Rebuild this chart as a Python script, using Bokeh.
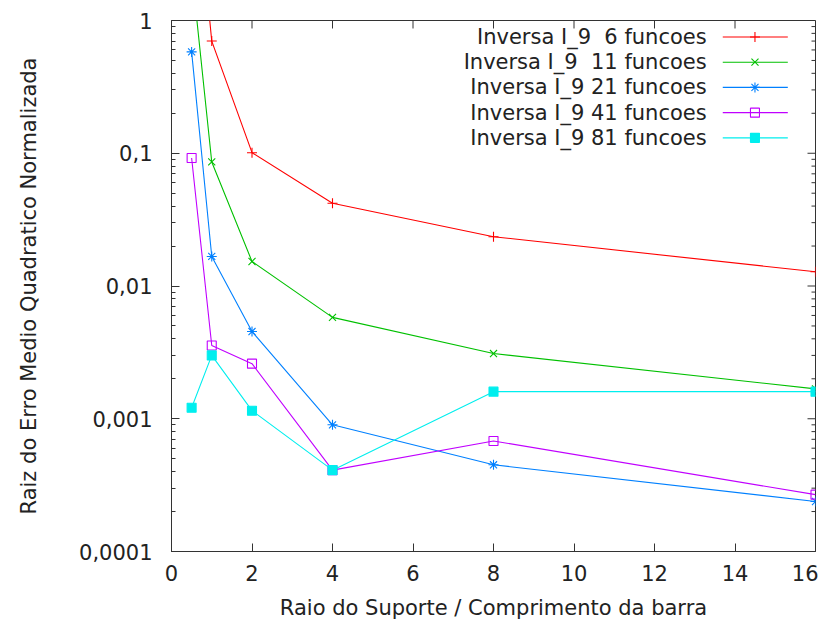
import numpy as np
from bokeh.plotting import figure
from bokeh.models import (FixedTicker, CustomJSTickFormatter, Range1d, ColumnDataSource)
from bokeh.core.properties import value
from bokeh.embed import file_html
from bokeh.resources import INLINE

# ---------------- data ----------------
raio = [0.5, 1, 2, 4, 8, 16]
f6 = [25.0, 0.70, 0.101, 0.042, 0.0235, 0.0128]
f11 = [2.4, 0.086, 0.0153, 0.0058, 0.0031, 0.00168]
f21 = [0.58, 0.0167, 0.00454, 0.00090, 0.00045, 0.000238]
f41 = [0.092, 0.00356, 0.0026, 0.00041, 0.00068, 0.000268]
f81 = [0.00121, 0.0030, 0.00115, 0.00041, 0.0016, 0.0016]

series_labels = ["Inversa I_9\u00a0 6 funcoes", "Inversa I_9\u00a0 11 funcoes",
                 "Inversa I_9 21 funcoes", "Inversa I_9 41 funcoes",
                 "Inversa I_9 81 funcoes"]
x_ticks = [0, 2, 4, 6, 8, 10, 12, 14, 16]
y_ticks = [0.0001, 0.001, 0.01, 0.1, 1]

x_title = "Raio do Suporte / Comprimento da barra"
y_title = "Raiz do Erro Medio Quadratico Normalizada"

# ---------------- style ----------------
colors = ["#ff0000", "#00c000", "#0080ff", "#c000ff", "#00eeee"]
markers = ["cross", "x", "asterisk", "square", "square"]
fills = [None, None, None, None, "#00eeee"]
FONT = "DejaVu Sans"
FS_TICK = "21px"
FS = "21px"
TXT = "#222222"
AX = "#333333"
LW = 1.1

XMIN, XMAX = 0, 16
YMIN, YMAX = 1e-4, 1
W, H = 818, 622
BL, BR, BT, BB = 171, 3, 20, 70

p = figure(width=W, height=H, y_axis_type="log",
           x_range=Range1d(XMIN, XMAX), y_range=Range1d(YMIN, YMAX),
           output_backend="svg", toolbar_location=None,
           min_border_left=BL, min_border_right=BR,
           min_border_top=BT, min_border_bottom=BB)
p.grid.visible = False
p.outline_line_color = AX
p.outline_line_width = 1
p.background_fill_color = "white"
p.border_fill_color = "white"

minor_y = [m * 10.0 ** e for e in range(-4, 0) for m in range(2, 10)]

def style_axis(ax):
    ax.axis_line_color = AX
    ax.major_tick_in = 8
    ax.major_tick_out = 0
    ax.minor_tick_in = 4
    ax.minor_tick_out = 0
    ax.major_tick_line_color = AX
    ax.minor_tick_line_color = AX
    ax.major_label_text_font = FONT
    ax.major_label_text_color = TXT
    ax.major_label_text_font_size = FS_TICK
    ax.axis_label_text_font = FONT
    ax.axis_label_text_font_style = "normal"
    ax.axis_label_text_color = TXT
    ax.axis_label_text_font_size = FS

yfmt = CustomJSTickFormatter(code="""
const e = Math.round(Math.log10(tick));
if (e >= 0) return String(Math.pow(10, e));
return '0,' + '0'.repeat(-e - 1) + '1';
""")

xa = p.xaxis[0]
xa.ticker = FixedTicker(ticks=x_ticks)
style_axis(xa)
xa.major_label_standoff = 13
xa.axis_label = x_title
xa.axis_label_standoff = 12

ya = p.yaxis[0]
ya.ticker = FixedTicker(ticks=y_ticks, minor_ticks=minor_y)
ya.formatter = yfmt
style_axis(ya)
ya.major_label_standoff = 19
ya.axis_label = y_title
ya.axis_label_standoff = 35

# mirrored inward ticks on top and right (gnuplot style), from tick lists
frame_w = W - BL - BR
frame_h = H - BT - BB
lx0, lx1 = np.log10(YMIN), np.log10(YMAX)
dx_major = 8 * (XMAX - XMIN) / frame_w
dx_minor = 4 * (XMAX - XMIN) / frame_w
dy_major = 8 * (lx1 - lx0) / frame_h
p.segment(x0=x_ticks, y0=[YMAX] * len(x_ticks), x1=x_ticks,
          y1=[10 ** (lx1 - dy_major)] * len(x_ticks), line_color=AX, line_width=1)
p.segment(x0=[XMAX] * len(y_ticks), y0=y_ticks, x1=[XMAX - dx_major] * len(y_ticks),
          y1=y_ticks, line_color=AX, line_width=1)
p.segment(x0=[XMAX] * len(minor_y), y0=minor_y, x1=[XMAX - dx_minor] * len(minor_y),
          y1=minor_y, line_color=AX, line_width=1)

all_series = [f6, f11, f21, f41, f81]
for ys, c, m, fc in zip(all_series, colors, markers, fills):
    src = ColumnDataSource(dict(x=raio, y=ys))
    p.line("x", "y", source=src, line_color=c, line_width=LW)
    p.scatter("x", "y", source=src, marker=m, size=10 if m != "square" else 9,
              line_color=c, fill_color=fc, line_width=LW)

# ---------------- legend (top right, label then sample) ----------------
def fx(f):
    return XMIN + f * (XMAX - XMIN)

def fy(f):  # fraction from top of frame
    return 10 ** (lx1 - f * (lx1 - lx0))

row0, drow = 0.031, 0.0475
for i, (lab, c, m, fc) in enumerate(zip(series_labels, colors, markers, fills)):
    yy = fy(row0 + i * drow)
    p.text(x=[fx(0.831)], y=[yy], text=[lab], text_align="right",
           text_baseline="middle", text_font=value(FONT), text_font_size=FS,
           text_color=TXT)
    p.line(x=[fx(0.856), fx(0.957)], y=[yy, yy], line_color=c, line_width=LW)
    p.scatter(x=[fx(0.906)], y=[yy], marker=m, size=10 if m != "square" else 9,
              line_color=c, fill_color=fc, line_width=LW)

open("out.html", "w").write(file_html(p, INLINE))
